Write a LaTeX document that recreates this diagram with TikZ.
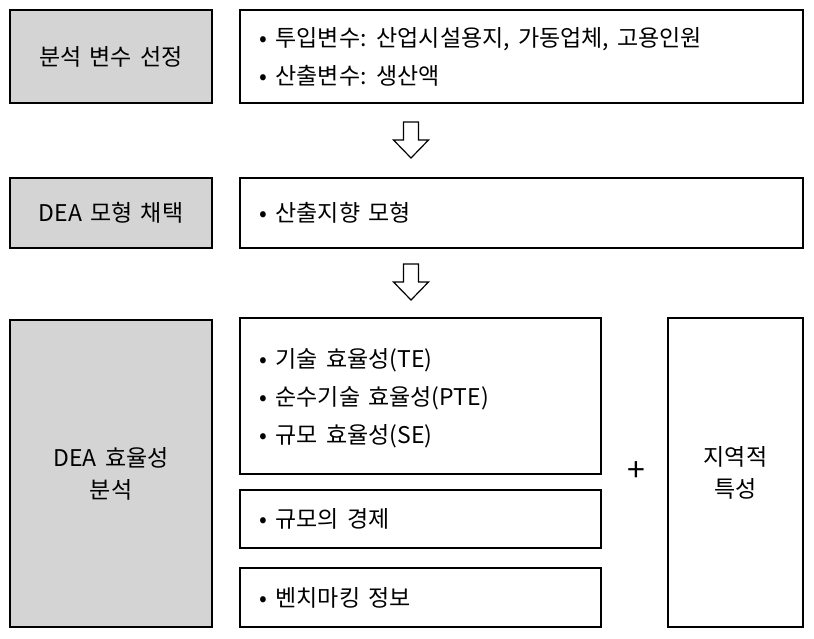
\documentclass[tikz,border=0pt]{standalone}
\usepackage{fontspec}
\setmainfont{Noto Sans CJK KR}[WordSpace=1.6]
\usetikzlibrary{positioning}
\tikzset{
  box/.style={draw, line width=1.2pt, minimum width=#1, inner sep=0pt},
  grey/.style={box=202pt, fill=black!17, align=center},
  list/.style={anchor=west, align=left, font=\fontsize{23}{38}\selectfont},
  hollow/.style={draw, line width=1.2pt, line join=miter}
}
% hollow down arrow, top at #1
\newcommand{\downarr}[1]{\draw[hollow] ($(#1)+(-7.5,0)$) -- ++(15,0) -- ++(0,18) -- ++(10,0)
  -- ++(-17.5,18) -- ++(-17.5,-18) -- ++(10,0) -- cycle;}
\usetikzlibrary{calc}
\begin{document}
\begin{tikzpicture}[x=1pt, y=-1pt, font=\fontsize{23}{32}\selectfont]
  \useasboundingbox (0,0) rectangle (814,639);

  % row 1
  \node[grey, minimum height=93pt] (sel) at (111,56.5) {분석 변수 선정};
  \node[box=563pt, minimum height=93pt] (selR) at (521.5,56.5) {};
  \node[list] (selT) at (256,56.5) {• 투입변수: 산업시설용지, 가동업체, 고용인원\\• 산출변수: 생산액};

  \coordinate (a1) at (411,122);
  \downarr{a1}

  % row 2
  \node[grey, minimum height=70pt] (mod) at (111,213) {DEA 모형 채택};
  \node[box=563pt, minimum height=70pt] (modR) at (521.5,213) {};
  \node[list] (modT) at (256,213) {• 산출지향 모형};

  \coordinate (a2) at (411,264);
  \downarr{a2}

  % row 3
  \node[grey, minimum height=307pt] (ana) at (111,473.5) {DEA 효율성\\분석};
  \node[box=361pt, minimum height=156pt] (eff) at (420.5,396) {};
  \node[list] (effT) at (256,398) {• 기술 효율성(TE)\\• 순수기술 효율성(PTE)\\• 규모 효율성(SE)};
  \node[box=361pt, minimum height=58pt] (eco) at (420.5,519) {};
  \node[list] (ecoT) at (256,519) {• 규모의 경제};
  \node[box=361pt, minimum height=59pt] (ben) at (420.5,597.5) {};
  \node[list] (benT) at (256,597.5) {• 벤치마킹 정보};
  \node[font=\fontsize{32}{34}\selectfont] (plus) at (636,472) {+};
  \node[box=135pt, minimum height=309pt, align=center] (reg) at (735.5,472.5) {지역적\\특성};
\end{tikzpicture}
\end{document}
